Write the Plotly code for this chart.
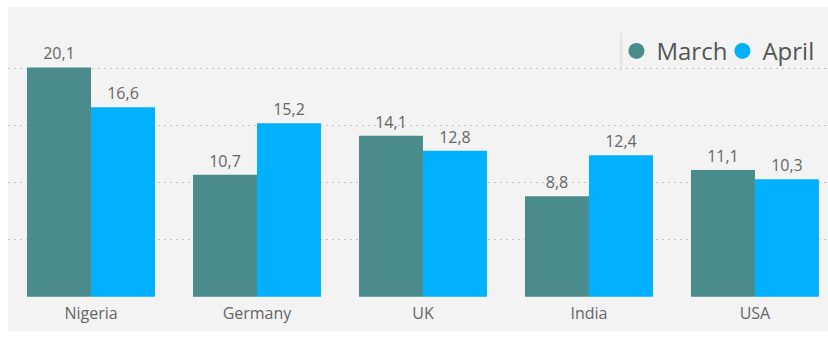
import plotly.graph_objects as go

# Data
countries = ["Nigeria", "Germany", "UK", "India", "USA"]
march = [20.1, 10.7, 14.1, 8.8, 11.1]
april = [16.6, 15.2, 12.8, 12.4, 10.3]
grid_values = [0, 5, 10, 15, 20]

series_names = ["March", "April"]
series_colors = ["#4A8B8C", "#01B0FE"]

W, H = 828, 339
ML, MR, MT, MB = 8, 0, 7, 42

fig = go.Figure()

for name, vals, col in zip(series_names, [march, april], series_colors):
    fig.add_trace(go.Bar(
        x=countries, y=vals, name=name,
        marker=dict(color=col, line=dict(width=0)),
        texttemplate="%{y:.1f}", textposition="outside",
        textfont=dict(size=16, color="#666666"),
        cliponaxis=False, showlegend=False,
    ))

# Circular legend markers
for name, col in zip(series_names, series_colors):
    fig.add_trace(go.Scatter(
        x=[None], y=[None], mode="markers", name=name,
        marker=dict(color=col, size=16, symbol="circle"),
        showlegend=True,
    ))

plot_h = H - MT - MB
fig.update_layout(
    width=W, height=H,
    margin=dict(l=ML, r=MR, t=MT, b=MB, pad=0, autoexpand=False),
    paper_bgcolor="white",
    plot_bgcolor="rgba(0,0,0,0)",
    font=dict(family="Open Sans, Noto Sans, sans-serif", color="#666666"),
    separators=", ",
    barmode="group", bargap=0.229, bargroupgap=0,
    xaxis=dict(
        range=[-0.5, 4.44], showgrid=False, zeroline=False, showline=False,
        ticks="", tickfont=dict(size=16, color="#666666"), fixedrange=True,
        ticklabelstandoff=5,
    ),
    yaxis=dict(
        range=[-0.03, 25.4], tickmode="array", tickvals=grid_values,
        showticklabels=False,
        showgrid=True, gridcolor="#C4C4C4", griddash="2px,4px", gridwidth=1,
        zeroline=False, showline=False, fixedrange=True,
    ),
    legend=dict(
        orientation="h", x=0.742, xanchor="left",
        y=(296.7 - 51) / plot_h, yanchor="middle",
        entrywidth=61,
        bgcolor="rgba(0,0,0,0)", font=dict(size=24, color="#555555"),
        itemclick=False, itemdoubleclick=False,
    ),
    shapes=[
        # panel background
        dict(type="rect", xref="paper", yref="paper", x0=0, x1=1,
             y0=-(331 - 296.7) / plot_h, y1=1, layer="below",
             fillcolor="#F3F3F3", line=dict(width=0)),
        # legend separator
        dict(type="line", xref="paper", yref="paper",
             x0=(621 - ML) / (W - ML - MR), x1=(621 - ML) / (W - ML - MR),
             y0=(296.7 - 70) / plot_h, y1=(296.7 - 33) / plot_h,
             line=dict(color="#D5D5D5", width=1), layer="above"),
    ],
)

fig.write_html("out.html")
